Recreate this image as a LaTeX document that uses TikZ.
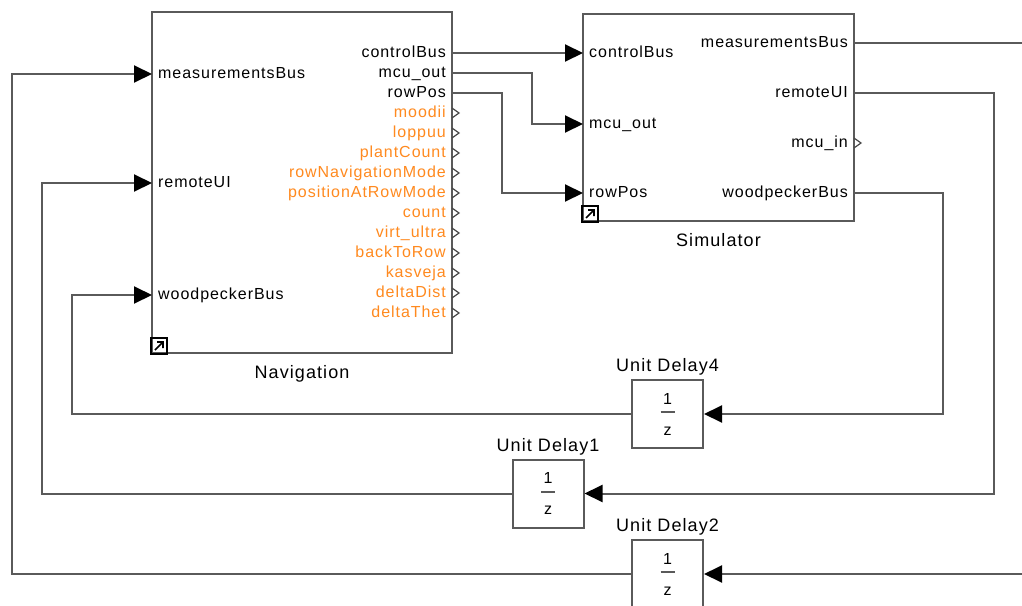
\documentclass[tikz,border=0pt]{standalone}
\usepackage{fontspec}
\setmainfont{Liberation Sans}
\newfontfamily\portfont[LetterSpace=6]{Liberation Sans}
\usetikzlibrary{arrows.meta,positioning,calc}
\definecolor{wire}{HTML}{5A5A5A}
\definecolor{portorange}{HTML}{FF8A1F}

\begin{document}
\begin{tikzpicture}[x=1pt,y=-1pt,every node/.style={font=\portfont\fontsize{16}{16}\selectfont,text height=11.5pt,text depth=3.5pt},blk/.style={draw=wire,line width=2pt,fill=white,inner sep=0pt},inlbl/.style={anchor=west,inner sep=6pt},outlbl/.style={anchor=east,inner sep=6pt},blkname/.style={font=\portfont\fontsize{18}{18}\selectfont},delay/.style={blk,minimum width=71pt,minimum height=68pt,align=center,text height=,text depth=},sig/.style={draw=wire,line width=2pt,-{Triangle[length=18pt,width=17pt,fill=black,color=black]}},chev/.style={draw=wire!80!black,line width=1.2pt}]
\useasboundingbox (0,0) rectangle (1022,605);
\clip (0,0) rectangle (1022,605);
% subsystem blocks
\node[blk,minimum width=300pt,minimum height=341pt] (nav) at (302,182.5) {};
\node[blkname,below=9pt of nav] (navname) {Navigation};
\node[blk,minimum width=271pt,minimum height=207pt] (sim) at (718.5,117.5) {};
\node[blkname,below=9pt of sim] (simname) {Simulator};
% shortcut icons
\draw[line width=1.6pt] (nav.south west) rectangle ++(16,-16) (nav.south west) ++(4,-4) -- ++(8,-8) ++(-6,0) -- ++(6,0) -- ++(0,6);
\draw[line width=1.6pt] (sim.south west) rectangle ++(16,-16) (sim.south west) ++(4,-4) -- ++(8,-8) ++(-6,0) -- ++(6,0) -- ++(0,6);
% navigation ports
\node[inlbl] (nav-mb) at (152,74) {measurementsBus};
\node[inlbl] (nav-ru) at (152,183) {remoteUI};
\node[inlbl] (nav-wb) at (152,295) {woodpeckerBus};
\node[outlbl] (nav-cb) at (452,53) {controlBus};
\node[outlbl] (nav-mo) at (452,73) {mcu\_out};
\node[outlbl] (nav-rp) at (452,93) {rowPos};
\foreach \t [count=\i] in {moodii,loppuu,plantCount,rowNavigationMode,positionAtRowMode,count,virt\_ultra,backToRow,kasveja,deltaDist,deltaThet}{
  \node[outlbl,text=portorange] (nav-o\i) at (452,93+20*\i) {\t};
  \draw[chev] (nav-o\i.east) ++(0,-5) -- ++(7,5) -- ++(-7,5);
}
% simulator ports
\node[inlbl] (sim-cb) at (583,53) {controlBus};
\node[inlbl] (sim-mo) at (583,124) {mcu\_out};
\node[inlbl] (sim-rp) at (583,193) {rowPos};
\node[outlbl] (sim-ms) at (854,43) {measurementsBus};
\node[outlbl] (sim-ru) at (854,93) {remoteUI};
\node[outlbl] (sim-mi) at (854,143) {mcu\_in};
\node[outlbl] (sim-wb) at (854,193) {woodpeckerBus};
\draw[chev] (sim-mi.east) ++(0,-5) -- ++(7,5) -- ++(-7,5);
% unit delays
\node[delay] (ud4) at (667.5,414) {1\\[-3pt]{\color{wire}\rule[4pt]{14pt}{2pt}}\\[2pt]z};
\node[blkname,above=0pt of ud4] (ud4name) {Unit Delay4};
\node[delay] (ud1) at (548,493.5) {1\\[-3pt]{\color{wire}\rule[4pt]{14pt}{2pt}}\\[2pt]z};
\node[blkname,above=0pt of ud1] (ud1name) {Unit Delay1};
\node[delay] (ud2) at (667.5,574) {1\\[-3pt]{\color{wire}\rule[4pt]{14pt}{2pt}}\\[2pt]z};
\node[blkname,above=0pt of ud2] (ud2name) {Unit Delay2};
\coordinate (offms) at (1040,43);
\coordinate (offin) at (1040,574);
% forward signals
\draw[sig] (nav-cb.east) -- (sim-cb.west);
\draw[sig] (nav-mo.east) -- ++(80,0) |- (sim-mo.west);
\draw[sig] (nav-rp.east) -- ++(50,0) |- (sim-rp.west);
\draw[draw=wire,line width=2pt] (sim-ms.east) -- (offms);
% feedback through the delays
\draw[sig] (sim-wb.east) -- ++(89,0) |- (ud4.east);
\draw[sig] (sim-ru.east) -- ++(140,0) |- (ud1.east);
\draw[sig] (offin) -- (ud2.east);
\draw[sig] (ud4.west) -| ([xshift=-80pt]nav-wb.west) -- (nav-wb.west);
\draw[sig] (ud1.west) -| ([xshift=-110pt]nav-ru.west) -- (nav-ru.west);
\draw[sig] (ud2.west) -| ([xshift=-140pt]nav-mb.west) -- (nav-mb.west);
\end{tikzpicture}
\end{document}
